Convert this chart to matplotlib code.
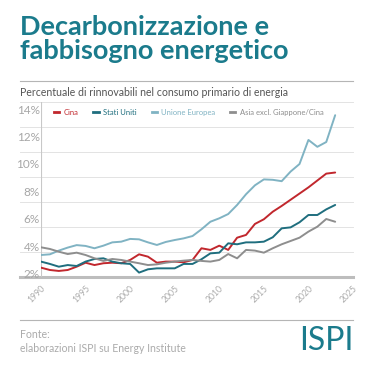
import matplotlib.pyplot as plt
from matplotlib.lines import Line2D

years = list(range(1990, 2024))

cina = [2.46, 2.29, 2.22, 2.29, 2.53, 2.82, 2.65, 2.78, 2.82, 2.78,
        3.02, 3.43, 3.26, 2.82, 2.90, 2.90, 2.85, 3.02, 3.87, 3.75,
        4.06, 3.75, 4.64, 4.84, 5.64, 5.98, 6.53, 6.95, 7.40, 7.85,
        8.30, 8.80, 9.30, 9.38]
stati_uniti = [2.90, 2.73, 2.53, 2.65, 2.58, 2.90, 3.09, 3.14, 2.90, 2.78,
               2.73, 2.10, 2.34, 2.41, 2.41, 2.41, 2.73, 2.73, 3.07, 3.50,
               3.55, 4.23, 4.16, 4.30, 4.30, 4.35, 4.67, 5.32, 5.39, 5.76,
               6.29, 6.29, 6.70, 7.02]
unione_europea = [3.38, 3.43, 3.70, 3.92, 4.10, 4.04, 3.87, 4.06, 4.30, 4.35,
                  4.55, 4.52, 4.30, 4.11, 4.33, 4.47, 4.59, 4.76, 5.25, 5.80,
                  6.05, 6.36, 7.02, 7.80, 8.45, 8.88, 8.85, 8.75, 9.45, 10.00,
                  11.75, 11.25, 11.60, 13.55]
asia = [3.94, 3.82, 3.62, 3.45, 3.55, 3.38, 3.14, 2.95, 3.09, 3.02,
        2.90, 2.78, 2.65, 2.70, 2.82, 2.90, 2.97, 3.02, 2.95, 2.90,
        3.02, 3.45, 3.14, 3.75, 3.70, 3.55, 3.87, 4.16, 4.40, 4.64,
        5.08, 5.44, 6.00, 5.80]

serie = [
    ("Cina", cina, "#c1272d"),
    ("Stati Uniti", stati_uniti, "#1f6e7e"),
    ("Unione Europea", unione_europea, "#80b3c3"),
    ("Asia excl. Giappone/Cina", asia, "#8e8e8e"),
]

y_ticks = [2, 4, 6, 8, 10, 12, 14]
x_ticks = [1990, 1995, 2000, 2005, 2010, 2015, 2020, 2025]

teal = "#1b7b8c"
plt.rcParams['font.family'] = ['Lato', 'DejaVu Sans']

fig = plt.figure(figsize=(3.74, 3.74), dpi=100)
fig.patch.set_facecolor("white")

# titolo e sottotitolo
fig.text(20 / 374, 1 - 15 / 374, "Decarbonizzazione e\nfabbisogno energetico",
         color=teal, fontsize=19.5, fontweight="bold", va="top", ha="left",
         linespacing=1.0)
fig.add_artist(Line2D([20 / 374, 353 / 374], [1 - 81 / 374] * 2,
                      color="#b5b5b5", lw=0.8))
fig.text(20 / 374, 1 - 92 / 374,
         "Percentuale di rinnovabili nel consumo primario di energia",
         color="#555555", fontsize=7.6, va="center", ha="left")

ax = fig.add_axes([41 / 374, 1 - 277 / 374, 312 / 374, 175 / 374])
for name, vals, col in serie:
    ax.plot(years, vals, color=col, lw=1.4, solid_joinstyle="round",
            solid_capstyle="round", zorder=3)

ax.set_xlim(1990, 2025)
ax.set_ylim(1.78, 14.51)

# griglia
for k in range(8):
    f = k / 7
    ax.plot([-21 / 312, 1], [f, f], transform=ax.transAxes, clip_on=False,
            color="#bdbdbd" if k == 0 else "#e3e3e3",
            lw=2.2 if k == 0 else 0.7, zorder=1)
ax.plot([0, 0], [0, 1], transform=ax.transAxes, color="#c8c8c8", lw=0.8,
        zorder=2)

for s in ax.spines.values():
    s.set_visible(False)

ax.set_yticks(y_ticks)
ax.set_yticklabels([f"{v}%" for v in y_ticks], color="#a6a6a6", fontsize=8.5)
ax.set_xticks(x_ticks)
ax.set_xticklabels([str(v) for v in x_ticks], rotation=45, ha="right",
                   va="top", color="#ababab", fontsize=6.2,
                   rotation_mode="anchor")
ax.tick_params(axis="both", length=0)
ax.tick_params(axis="y", pad=1)
ax.tick_params(axis="x", pad=5)

handles = [Line2D([], [], color=c, lw=2) for _, _, c in serie]
leg = ax.legend(handles, [n for n, _, _ in serie], ncol=4, loc="upper left",
                bbox_to_anchor=(0.02, 1.0), frameon=False, fontsize=5.5,
                handlelength=0.7, handletextpad=0.6, columnspacing=1.9,
                labelcolor=[c for _, _, c in serie])

# fonte
fig.add_artist(Line2D([20 / 374, 353 / 374], [1 - 320 / 374] * 2,
                      color="#b5b5b5", lw=0.8))
fig.text(20 / 374, 1 - 335 / 374, "Fonte:", color="#ababab", fontsize=7.6,
         va="center", ha="left")
fig.text(20 / 374, 1 - 348 / 374, "elaborazioni ISPI su Energy Institute",
         color="#ababab", fontsize=7.6, va="center", ha="left")
fig.text(354 / 374, 1 - 341 / 374, "ISPI", color=teal, fontsize=23,
         va="center", ha="right")

fig.savefig("out.png", dpi=100, facecolor="white")
